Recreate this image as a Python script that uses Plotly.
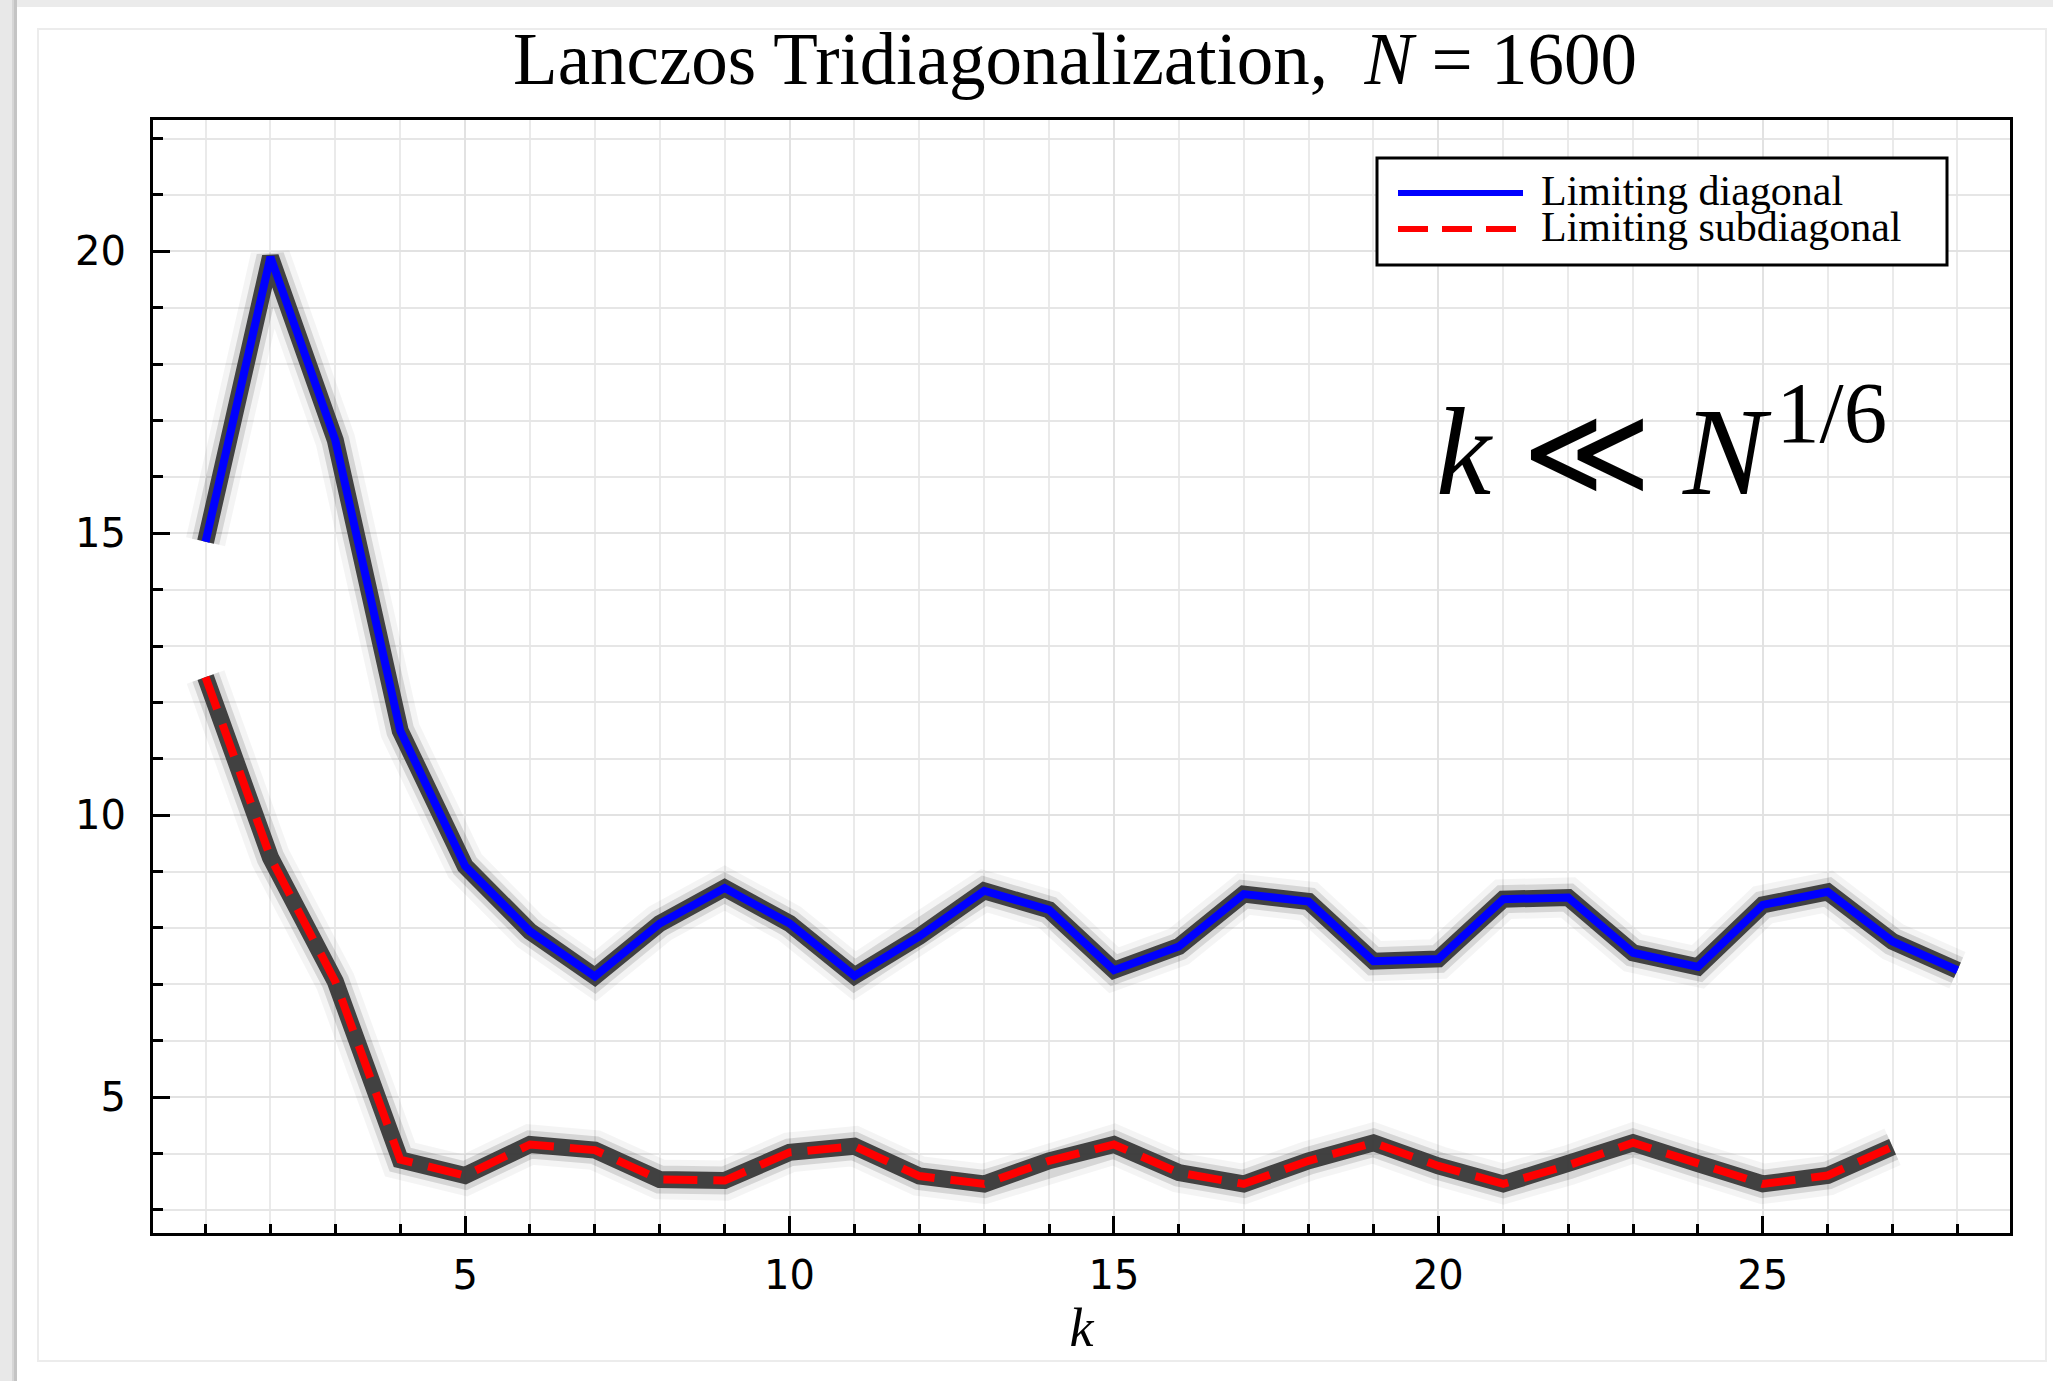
import plotly.graph_objects as go

# ---------------- data ----------------
k_diag = list(range(1, 29))
diag_limit = [14.85, 19.90, 16.65, 11.50, 9.10, 7.94, 7.14, 8.08, 8.71, 8.08,
              7.15, 7.85, 8.66, 8.32, 7.25, 7.67, 8.60, 8.47, 7.41, 7.45,
              8.51, 8.54, 7.56, 7.31, 8.41, 8.64, 7.76, 7.25]

k_sub = list(range(1, 28))
subdiag_limit = [12.45, 9.25, 7.05, 3.89, 3.61, 4.16, 4.06, 3.54, 3.52, 4.02,
                 4.13, 3.60, 3.46, 3.87, 4.16, 3.66, 3.46, 3.87, 4.19, 3.78,
                 3.46, 3.79, 4.19, 3.82, 3.46, 3.61, 4.12]

legend_labels = ["Limiting diagonal", "Limiting subdiagonal"]
title_text = "Lanczos Tridiagonalization,\u00a0\u00a0<i>N</i> = 1600"
regime_text = "<i>k</i> \u226a <i>N</i>\u200a<sup>1/6</sup>"
x_title = "<i>k</i>"

# ---------------- geometry ----------------
W, H = 2053, 1381
L, R, T, B = 153, 2010, 120, 1233
PW, PH = R - L, B - T


def fx(px):
    return (px - L) / PW


def fy(py):
    return (B - py) / PH


SERIF = "Liberation Serif"
SANS = "DejaVu Sans"

fig = go.Figure()

# gray sample band (haze + core) under each limiting curve
for xs, ys in [(k_diag, diag_limit), (k_sub, subdiag_limit)]:
    for w, c in [(40, "rgba(0,0,0,0.045)"), (28, "rgba(0,0,0,0.12)"),
                 (17, "rgba(60,60,60,0.97)")]:
        fig.add_trace(go.Scatter(x=xs, y=ys, mode="lines", showlegend=False,
                                 hoverinfo="skip",
                                 line=dict(color=c, width=w)))

fig.add_trace(go.Scatter(x=k_diag, y=diag_limit, mode="lines",
                         name=legend_labels[0], showlegend=False,
                         line=dict(color="#0000ff", width=8)))
fig.add_trace(go.Scatter(x=k_sub, y=subdiag_limit, mode="lines",
                         name=legend_labels[1], showlegend=False,
                         line=dict(color="#ff0000", width=8, dash="34px,16px")))

axis_common = dict(
    showline=True, linecolor="black", linewidth=3, mirror=True,
    ticks="inside", ticklen=17, tickwidth=3, tickcolor="black",
    showgrid=True, gridcolor="#e2e2e2", gridwidth=2,
    zeroline=False,
    tickfont=dict(family=SANS, size=40, color="black"),
)

fig.update_xaxes(
    range=[0.19, 28.81], tick0=0, dtick=5,
    minor=dict(dtick=1, ticks="inside", ticklen=9, tickwidth=3,
               tickcolor="black", showgrid=True, gridcolor="#eaeaea",
               gridwidth=2),
    ticklabelstandoff=5,
    title=dict(text=x_title, font=dict(family=SERIF, size=54, color="black"),
               standoff=12),
    **axis_common,
)
fig.update_yaxes(
    range=[2.59, 22.33], tick0=0, dtick=5,
    minor=dict(dtick=1, ticks="inside", ticklen=10, tickwidth=3,
               tickcolor="black", showgrid=True, gridcolor="#e6e6e6",
               gridwidth=2),
    ticklabelstandoff=16,
    **axis_common,
)

shapes = []
# page frame (screenshot border)
shapes.append(dict(type="rect", xref="paper", yref="paper",
                   x0=fx(0), x1=fx(W), y0=fy(0), y1=fy(7),
                   fillcolor="#ebebeb", line=dict(width=0), layer="below"))
shapes.append(dict(type="rect", xref="paper", yref="paper",
                   x0=fx(0), x1=fx(12), y0=fy(H), y1=fy(0),
                   fillcolor="#e8e8e8", line=dict(width=0), layer="below"))
shapes.append(dict(type="rect", xref="paper", yref="paper",
                   x0=fx(12), x1=fx(14), y0=fy(H), y1=fy(0),
                   fillcolor="#d6d6d6", line=dict(width=0), layer="below"))
shapes.append(dict(type="rect", xref="paper", yref="paper",
                   x0=fx(14), x1=fx(17), y0=fy(H), y1=fy(0),
                   fillcolor="#c4c4c4", line=dict(width=0), layer="below"))
shapes.append(dict(type="rect", xref="paper", yref="paper",
                   x0=fx(38), x1=fx(2046), y0=fy(1361), y1=fy(29),
                   fillcolor="rgba(0,0,0,0)",
                   line=dict(color="#ececec", width=2), layer="below"))

# legend box
shapes.append(dict(type="rect", xref="paper", yref="paper",
                   x0=fx(1377), x1=fx(1947), y0=fy(265), y1=fy(158),
                   fillcolor="white", line=dict(color="black", width=3),
                   layer="above"))
shapes.append(dict(type="line", xref="paper", yref="paper",
                   x0=fx(1398), x1=fx(1523), y0=fy(193), y1=fy(193),
                   line=dict(color="#0000ff", width=6), layer="above"))
shapes.append(dict(type="line", xref="paper", yref="paper",
                   x0=fx(1398), x1=fx(1523), y0=fy(229), y1=fy(229),
                   line=dict(color="#ff0000", width=6, dash="30px,14px"),
                   layer="above"))

annotations = [
    dict(text=legend_labels[0], xref="paper", yref="paper",
         x=fx(1539), y=fy(191), xanchor="left", yanchor="middle",
         showarrow=False, font=dict(family=SERIF, size=42, color="black")),
    dict(text=legend_labels[1], xref="paper", yref="paper",
         x=fx(1539), y=fy(227), xanchor="left", yanchor="middle",
         showarrow=False, font=dict(family=SERIF, size=42, color="black")),
    dict(text=regime_text, xref="paper", yref="paper",
         x=fx(1661), y=fy(443), xanchor="center", yanchor="middle",
         showarrow=False, font=dict(family=SERIF, size=124, color="black")),
]

fig.update_layout(
    width=W, height=H, autosize=False,
    margin=dict(l=L, r=W - R, t=T, b=H - B, pad=0),
    paper_bgcolor="white", plot_bgcolor="white",
    title=dict(text=title_text, xref="container", yref="container",
               x=1075 / W, y=1 - 58 / H, xanchor="center", yanchor="middle",
               font=dict(family=SERIF, size=73, color="black")),
    shapes=shapes, annotations=annotations,
    showlegend=False,
)

fig.write_html("out.html", config={"displayModeBar": False})
